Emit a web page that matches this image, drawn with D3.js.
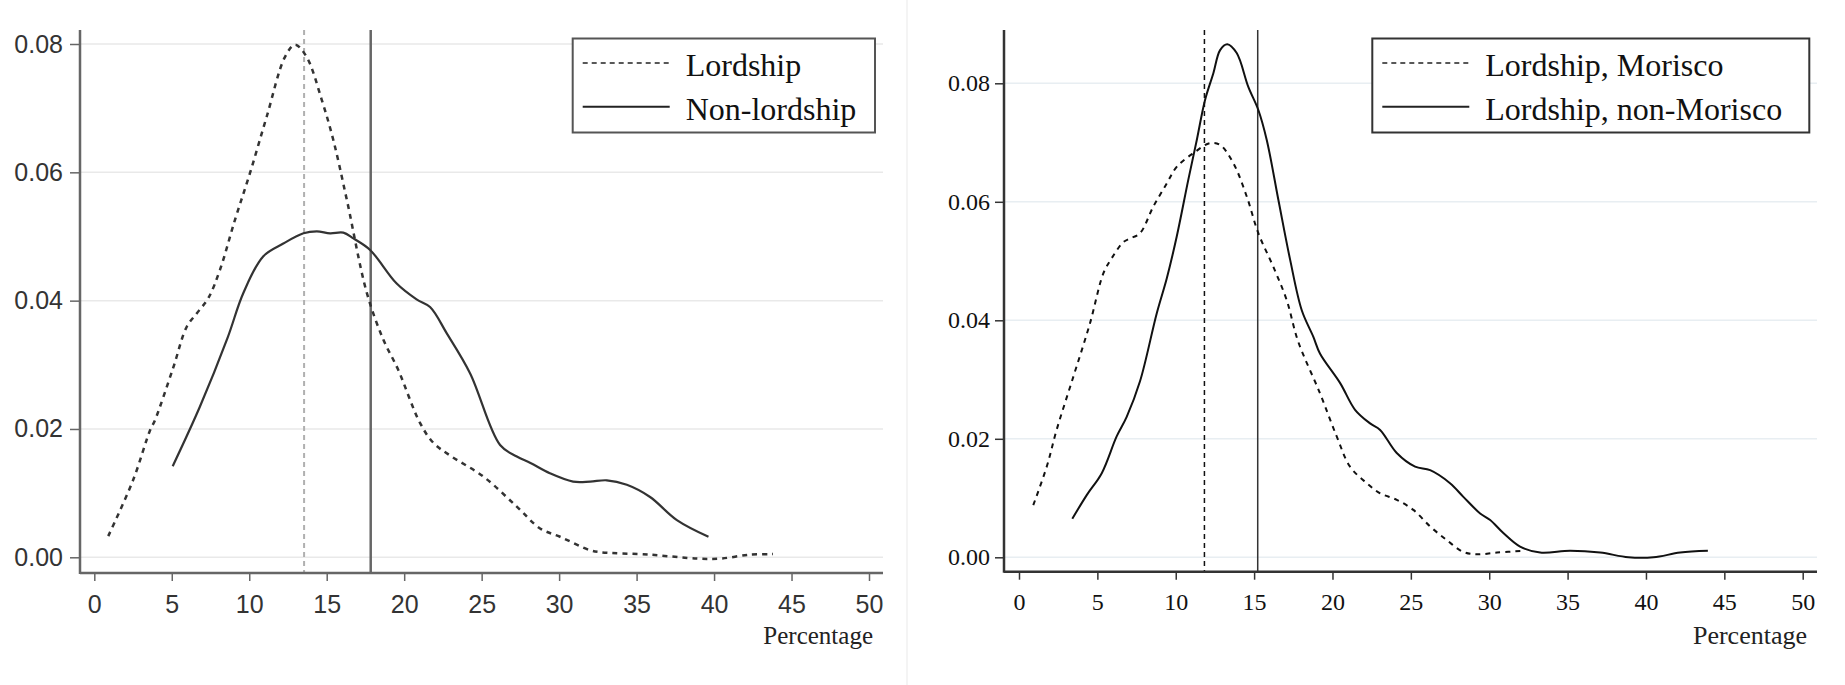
<!DOCTYPE html>
<meta charset="utf-8">
<script src="https://d3js.org/d3.v7.min.js"></script>
<style>
  body { margin: 0; background: #fff; }
</style>
<div id="chart"></div>
<script>
// kernel densities (x = percentage, y = density)
var xTicks = [0, 5, 10, 15, 20, 25, 30, 35, 40, 45, 50];
var yTicks = [0, 0.02, 0.04, 0.06, 0.08];

// left panel
var lordX = [0.9, 2.5, 3.6, 3.92, 5.1, 5.96, 6.61, 7.36, 8.11, 9.08, 10.05, 11.13, 12.31, 12.96, 13.7, 14.68, 15.43, 16.3, 17.59, 18.66, 19.6, 21.03, 21.9, 23.0, 25.1, 27.27, 28.77, 30.06, 32.0, 32.65, 35.9, 38.9, 40.4, 42.3, 43.8];
var lordY = [0.0033, 0.012, 0.0198, 0.0214, 0.0296, 0.0359, 0.038, 0.0404, 0.0448, 0.0526, 0.0599, 0.0687, 0.078, 0.0799, 0.078, 0.0713, 0.065, 0.0557, 0.0412, 0.0339, 0.0293, 0.0209, 0.0178, 0.0158, 0.0126, 0.0079, 0.0045, 0.0032, 0.0011, 0.0008, 0.0004, -0.0002, -0.0002, 0.0004, 0.0005];
var nonLordX = [5.06, 6.82, 8.6, 9.62, 10.9, 12.2, 13.5, 14.36, 15.22, 16.07, 16.72, 17.8, 19.5, 20.8, 21.67, 22.75, 24.25, 26.19, 27.27, 28.15, 29.4, 30.9, 32.0, 33.08, 34.37, 35.87, 37.6, 39.64];
var nonLordY = [0.0142, 0.0235, 0.0342, 0.0412, 0.0469, 0.0489, 0.0505, 0.0508, 0.0505, 0.0506, 0.0497, 0.0479, 0.0427, 0.0402, 0.039, 0.0349, 0.0287, 0.0175, 0.0157, 0.0147, 0.0131, 0.0118, 0.0118, 0.012, 0.0113, 0.0094, 0.0058, 0.0032];
var leftMeans = [13.54, 17.84];
var leftLabels = ["Lordship", "Non-lordship"];

// right panel
var morX = [0.91, 1.77, 2.4, 3.47, 4.53, 5.38, 5.92, 6.66, 7.08, 7.72, 8.57, 9.43, 10.06, 11.12, 12.19, 12.83, 13.68, 14.53, 15.27, 16.23, 17.08, 17.8, 19.2, 20.27, 21.12, 22.19, 23.04, 24.1, 25.16, 26.23, 27.29, 28.35, 29.2, 30.5, 32.18];
var morY = [0.0088, 0.0153, 0.0215, 0.0305, 0.0395, 0.0479, 0.0505, 0.0532, 0.0538, 0.0547, 0.0592, 0.0631, 0.0659, 0.0682, 0.0699, 0.0696, 0.0665, 0.0609, 0.0547, 0.049, 0.0434, 0.0365, 0.0277, 0.0204, 0.0153, 0.0125, 0.0108, 0.0097, 0.008, 0.0052, 0.0029, 0.0009, 0.0005, 0.0008, 0.0011];
var nonMorX = [3.4, 4.32, 5.28, 6.23, 6.87, 7.72, 8.79, 9.43, 10.06, 10.8, 11.34, 11.87, 12.4, 12.83, 13.29, 13.89, 14.63, 15.27, 15.81, 16.55, 17.3, 18.04, 18.78, 19.2, 20.49, 21.44, 22.4, 23.04, 24.1, 25.27, 26.23, 27.5, 28.35, 29.42, 30.06, 30.9, 31.97, 33.25, 35.16, 37.08, 38.88, 40.48, 42.18, 43.95];
var nonMorY = [0.0065, 0.0105, 0.0142, 0.0204, 0.0237, 0.0297, 0.0412, 0.0471, 0.0541, 0.0637, 0.0704, 0.0772, 0.0817, 0.0856, 0.0866, 0.0851, 0.0794, 0.0755, 0.0704, 0.0603, 0.0502, 0.0417, 0.0372, 0.0344, 0.0294, 0.0249, 0.0226, 0.0215, 0.0176, 0.0153, 0.0147, 0.0125, 0.0102, 0.0074, 0.0063, 0.0041, 0.0018, 0.0008, 0.0011, 0.0008, 0.0, 0.0, 0.0008, 0.0011];
var rightMeans = [11.83, 15.23];
var rightLabels = ["Lordship, Morisco", "Lordship, non-Morisco"];

var serif = "'Liberation Serif', 'Times New Roman', serif";

var svg = d3.select("#chart")
  .append("svg")
    .attr("width", 1845)
    .attr("height", 685);

// faint border of the left picture
svg.append("line")
  .attr("x1", 907).attr("x2", 907).attr("y1", 0).attr("y2", 685)
  .attr("stroke", "#f0f0f0").attr("stroke-width", 1.5);

function zip(xs, ys) {
  return xs.map(function(d, i) { return {x: d, y: ys[i]}; });
}

function panel(p) {
  var g = svg.append("g");
  var x = d3.scaleLinear().domain([0, 50]).range([p.x0, p.x50]);
  var y = d3.scaleLinear().domain([0, 0.08]).range([p.y0, p.y08]);

  // gridlines
  g.selectAll(".grid")
    .data(yTicks)
    .enter().append("line")
      .attr("x1", p.axisX).attr("x2", p.axisRight)
      .attr("y1", function(d) { return y(d); })
      .attr("y2", function(d) { return y(d); })
      .attr("stroke", p.grid)
      .attr("stroke-width", 1.5);

  // mean lines
  g.append("line")
    .attr("x1", x(p.means[0])).attr("x2", x(p.means[0]))
    .attr("y1", p.axisTop).attr("y2", p.axisY)
    .attr("stroke", p.meanColor[0])
    .attr("stroke-width", p.meanWidth[0])
    .attr("stroke-dasharray", p.meanDash);
  g.append("line")
    .attr("x1", x(p.means[1])).attr("x2", x(p.means[1]))
    .attr("y1", p.axisTop).attr("y2", p.axisY)
    .attr("stroke", p.meanColor[1])
    .attr("stroke-width", p.meanWidth[1]);

  var line = d3.line()
    .x(function(d) { return x(d.x); })
    .y(function(d) { return y(d.y); })
    .curve(d3.curveCatmullRom.alpha(0.5));

  g.append("path")
    .datum(zip(p.dashX, p.dashY))
    .attr("fill", "none")
    .attr("stroke", p.lineColor)
    .attr("stroke-width", p.dashWidth)
    .attr("stroke-dasharray", p.curveDash)
    .attr("d", line);
  g.append("path")
    .datum(zip(p.solidX, p.solidY))
    .attr("fill", "none")
    .attr("stroke", p.lineColor)
    .attr("stroke-width", p.solidWidth)
    .attr("d", line);

  // axes
  var ya = g.append("g")
    .attr("transform", "translate(" + p.axisX + ",0)")
    .call(d3.axisLeft(y).tickValues(yTicks).tickFormat(d3.format(".2f"))
      .tickSize(p.tick).tickPadding(p.yPad));
  var xa = g.append("g")
    .attr("transform", "translate(0," + p.axisY + ")")
    .call(d3.axisBottom(x).tickValues(xTicks).tickSize(8).tickPadding(p.xPad));
  [ya, xa].forEach(function(a) {
    a.attr("font-family", p.font).attr("font-size", p.tickFont);
    a.select(".domain").remove();
    a.selectAll("line").attr("stroke", p.axisColor).attr("stroke-width", 1.5);
    a.selectAll("text")
      .attr("fill", p.textColor)
      .attr("font-family", p.font)
      .style("font-family", p.font)
      .style("font-size", p.tickFont + "px");
  });

  g.append("line")
    .attr("x1", p.axisX).attr("x2", p.axisX)
    .attr("y1", p.axisTop).attr("y2", p.axisY + 1)
    .attr("stroke", p.axisColor).attr("stroke-width", 2.5);
  g.append("line")
    .attr("x1", p.axisX).attr("x2", p.axisRight)
    .attr("y1", p.axisY).attr("y2", p.axisY)
    .attr("stroke", p.axisColor).attr("stroke-width", 2.5);

  g.append("text")
    .attr("x", p.titleRight)
    .attr("y", 644)
    .attr("text-anchor", "end")
    .style("font-family", serif)
    .style("font-size", p.titleFont + "px")
    .attr("fill", "#222")
    .text("Percentage");

  // legend
  g.append("rect")
    .attr("x", p.legX).attr("y", 38.5)
    .attr("width", p.legW).attr("height", 94)
    .attr("fill", "#fff")
    .attr("stroke", p.legStroke)
    .attr("stroke-width", 2);
  var rows = [63, 106.7];
  rows.forEach(function(ry, i) {
    g.append("line")
      .attr("x1", p.legX + 10).attr("x2", p.legX + 97)
      .attr("y1", ry).attr("y2", ry)
      .attr("stroke", "#222")
      .attr("stroke-width", i === 0 ? 1.6 : 2)
      .attr("stroke-dasharray", i === 0 ? "5,4" : null);
    g.append("text")
      .attr("x", p.legX + 113)
      .attr("y", ry + 13)
      .style("font-family", serif)
      .style("font-size", "32px")
      .attr("fill", "#111")
      .text(p.labels[i]);
  });
}

panel({
  x0: 94.3, x50: 869, y0: 557.3, y08: 44,
  axisX: 80, axisY: 573, axisTop: 30, axisRight: 883,
  grid: "#e9e9e9", axisColor: "#666", textColor: "#333",
  font: "'Liberation Sans', Arial, sans-serif", tickFont: 25,
  tick: 10, yPad: 7, xPad: 14,
  means: leftMeans, meanColor: ["#b0b0b0", "#666"], meanWidth: [2, 2.5], meanDash: "5,4",
  dashX: lordX, dashY: lordY, solidX: nonLordX, solidY: nonLordY,
  lineColor: "#333", dashWidth: 2.5, solidWidth: 2.2, curveDash: "5,5",
  titleRight: 873, titleFont: 25,
  legX: 572.7, legW: 302.3, legStroke: "#555", labels: leftLabels
});

panel({
  x0: 1019, x50: 1802.7, y0: 557.3, y08: 83.3,
  axisX: 1004, axisY: 571.7, axisTop: 30, axisRight: 1817,
  grid: "#e8eef2", axisColor: "#333", textColor: "#111",
  font: serif, tickFont: 24,
  tick: 9, yPad: 5, xPad: 13,
  means: rightMeans, meanColor: ["#111", "#333"], meanWidth: [1.5, 1.5], meanDash: "5,4",
  dashX: morX, dashY: morY, solidX: nonMorX, solidY: nonMorY,
  lineColor: "#111", dashWidth: 2, solidWidth: 2, curveDash: "5,5",
  titleRight: 1807, titleFont: 26,
  legX: 1372.3, legW: 437, legStroke: "#333", labels: rightLabels
});
</script>
</body>
</html>
